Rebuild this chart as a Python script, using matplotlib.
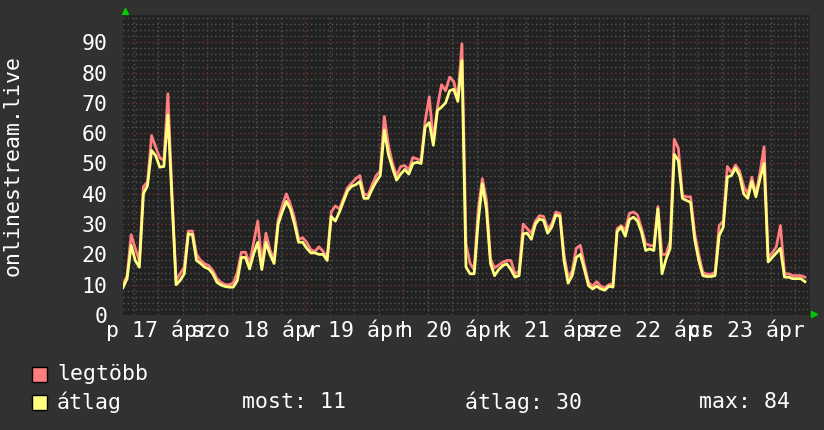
import numpy as np
import matplotlib
matplotlib.use("Agg")
import matplotlib.pyplot as plt
from matplotlib.patches import Rectangle

# hourly samples starting 2020-04-17 ~03:20
avg = [9, 12, 23, 18, 15.8, 40, 42.7, 54.3, 52.6, 48.8, 49, 66, 38, 10, 11.4, 13.6,
       26.8, 26.5, 18, 17, 15.8, 15.2, 13.6, 10.8, 9.9, 9.4, 9.2, 9.2, 11.4, 19, 19, 15.2,
       20.2, 24, 15, 24, 20, 17, 30, 34, 37.5, 35, 30, 24, 24, 22, 20.5, 20.5,
       20, 20, 18, 32.5, 31, 34, 37.5, 41, 42.5, 43, 44, 38.5, 38.5, 41.5, 44, 46,
       61, 53, 48.5, 44.5, 46.5, 48, 46.5, 50, 50.4, 50, 62, 63.5, 56, 67.5, 68.6, 70,
       74, 74.5, 70.5, 84, 15.8, 13.6, 13.6, 31, 43.3, 35, 17, 13, 15, 16.3, 16.9, 15,
       12.5, 13, 26.8, 27, 25, 30, 31.7, 31.2, 27, 29, 33, 32.6, 18, 10.5, 13, 19,
       20, 15, 9.7, 8.6, 9.5, 8.6, 8.2, 9.5, 9.2, 27.5, 29, 26, 31.5, 32.3, 31, 27.3,
       21.3, 21.8, 21.3, 35, 13.6, 18.5, 22, 53, 51, 38.5, 37.8, 37.2, 25, 18, 13, 12.7,
       12.7, 13, 26.2, 29, 45.5, 46, 48.5, 46, 40, 38.5, 44, 39, 45, 50, 17.5, 19,
       20.5, 22, 12.5, 12.5, 12, 12, 12, 11]
mx = [10, 13, 26.5, 22, 18, 42.4, 43.8, 59.2, 55.4, 51.9, 51, 73, 40, 11.4, 13.6, 15.8,
      27.7, 27.7, 20, 18, 16.9, 16.3, 14.7, 12, 10.8, 10, 10, 10.5, 14.1, 20.7, 20.7, 16.9,
      24, 31, 17, 27, 21.5, 18, 31.5, 36, 40, 36.5, 32, 25, 25.5, 24, 21.5, 21,
      22.5, 21, 19, 34, 36, 35, 38.5, 42, 43.5, 45, 46, 40, 39.5, 43, 46, 47.5,
      65.5, 56, 50, 46, 49, 49.3, 48, 52, 51.5, 51, 64, 72, 57.5, 68.5, 76, 74,
      78.5, 77, 71.5, 89.5, 23.5, 17, 15, 35, 45, 38, 18.5, 15.5, 16.5, 17.4, 18, 18,
      13.5, 14.5, 30, 28.5, 27, 31, 32.8, 32.5, 28.5, 30, 34, 33.5, 20, 12.5, 14.5, 22,
      23, 16.5, 10.8, 9.5, 11, 9.5, 9, 10, 10.3, 28.5, 29.5, 28, 33.5, 34, 33, 28.5,
      23.5, 23, 22.8, 35.8, 20, 20, 24.5, 58, 55, 39.5, 39, 39, 27, 20, 14, 13.5,
      13.5, 14, 29.5, 31, 49, 47, 49.5, 47.5, 42.5, 40, 45.5, 40, 47, 55.5, 19, 20.5,
      22.5, 29.5, 13.6, 13.6, 13, 13, 13, 12.5]

days = ["p", "szo", "v", "h", "k", "sze", "cs"]
dates = [17, 18, 19, 20, 21, 22, 23]
month = "ápr"
start_hour = 3.35  # hours after Apr 17 00:00

FONT = "DejaVu Sans Mono"
FS = 15.5
BG = "#313131"
PLOT_BG = "#222222"

t = start_hour + np.arange(len(avg))

fig = plt.figure(figsize=(8.24, 4.30), dpi=100, facecolor=BG)
ax = fig.add_axes([123 / 824, 115 / 430, 687 / 824, 300 / 430])
ax.set_facecolor(PLOT_BG)
for s in ax.spines.values():
    s.set_visible(False)

x0, x1 = start_hour, start_hour + 687 / (98 / 24)
ax.set_xlim(x0, x1)
ax.set_ylim(0, 99)

# grid
for h in np.arange(6, 24 * 8, 6):
    if x0 < h < x1:
        col = "#7a3333" if h % 24 == 0 else "#555555"
        ax.axvline(h, color=col, lw=1, ls=(0, (1, 2)), zorder=1)
for v in np.arange(2, 99, 2):
    col = "#7a3333" if v % 10 == 0 else "#555555"
    ax.axhline(v, color=col, lw=1, ls=(0, (1, 2)), zorder=1)

ax.plot(t, mx, color="#ff7f7f", lw=2, zorder=3)
ax.plot(t, avg, color="#ffff7f", lw=2, zorder=4)

ax.set_yticks(range(0, 100, 10))
ax.tick_params(axis="y", length=0, pad=11, labelsize=FS, labelcolor="white")
for lab in ax.get_yticklabels():
    lab.set_fontfamily(FONT)

noon = [24 * i + 12 for i in range(len(dates))]
ax.set_xticks(noon)
ax.set_xticklabels([f"{d} {n} {month}" for d, n in zip(days, dates)],
                   fontfamily=FONT, fontsize=FS, color="white")
ax.tick_params(axis="x", length=0, pad=3)

def px(x, y):
    return x / 824, 1 - y / 430

fig.text(*px(13, 165), "onlinestream.live", rotation=90, ha="center", va="center",
         fontfamily=FONT, fontsize=FS, color="white")

# axis arrows
ax.plot([0.003], [1 + 4.5 / 300], marker="^", ms=5, color="#00cc00",
        transform=ax.transAxes, clip_on=False, zorder=5)
ax.plot([1 + 3.5 / 687], [0.002], marker=">", ms=5, color="#00cc00",
        transform=ax.transAxes, clip_on=False, zorder=5)

# legend
for ytop, col in [(367, "#ff7f7f"), (395, "#ffff7f")]:
    fig.add_artist(Rectangle(px(32, ytop + 15), 15 / 824, 15 / 430, transform=fig.transFigure,
                             facecolor=col, edgecolor="black", lw=1))
fig.text(*px(57, 374), "legtöbb", fontfamily=FONT, fontsize=FS, color="white", va="center")
fig.text(*px(57, 402), "átlag", fontfamily=FONT, fontsize=FS, color="white", va="center")
fig.text(*px(242, 402), "most: 11", fontfamily=FONT, fontsize=FS, color="white", va="center")
fig.text(*px(465, 402), "átlag: 30", fontfamily=FONT, fontsize=FS, color="white", va="center")
fig.text(*px(699, 402), "max: 84", fontfamily=FONT, fontsize=FS, color="white", va="center")

fig.savefig("out.png", dpi=100, facecolor=BG)
